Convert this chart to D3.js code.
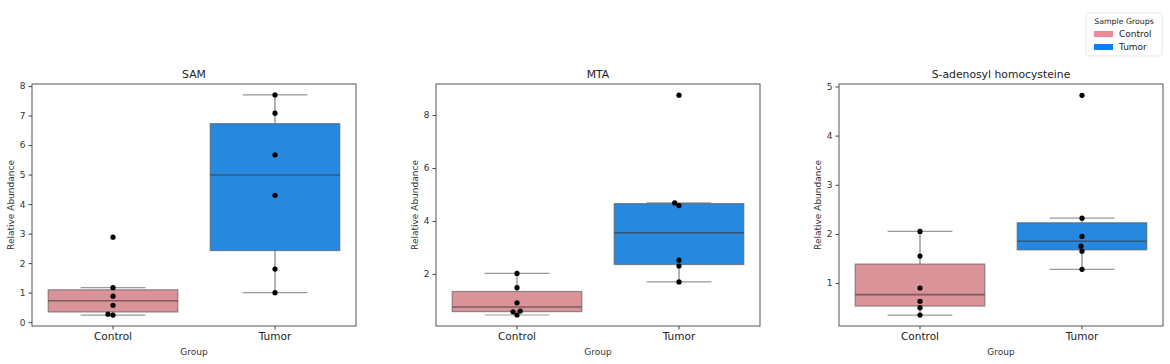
<!DOCTYPE html>
<html>
<head>
<meta charset="utf-8">
<script src="https://cdn.jsdelivr.net/npm/d3@7"></script>
<style>
  body { margin: 0; background: #fff; }
  svg { display: block; font-family: "DejaVu Sans", sans-serif; }
</style>
</head>
<body>
<div id="chart"></div>
<script>
// data
const groups = ["Control", "Tumor"];
const titles = ["SAM", "MTA", "S-adenosyl homocysteine"];

const samControl = [2.88, 1.17, 0.88, 0.57, 0.27, 0.24];
const samTumor = [7.70, 7.08, 5.67, 4.30, 1.80, 1.00];
const mtaControl = [2.02, 1.48, 0.91, 0.60, 0.57, 0.45];
const mtaTumor = [8.75, 4.68, 4.58, 2.52, 2.30, 1.70];
const sahControl = [2.05, 1.55, 0.90, 0.63, 0.50, 0.35];
const sahTumor = [4.82, 2.32, 1.95, 1.75, 1.65, 1.28];

const samTicks = [0, 1, 2, 3, 4, 5, 6, 7, 8];
const mtaTicks = [2, 4, 6, 8];
const sahTicks = [1, 2, 3, 4, 5];

const panels = [
  { title: titles[0], values: [samControl, samTumor], ticks: samTicks, domain: [-0.13, 8.07] },
  { title: titles[1], values: [mtaControl, mtaTumor], ticks: mtaTicks, domain: [0.035, 9.17] },
  { title: titles[2], values: [sahControl, sahTumor], ticks: sahTicks, domain: [0.127, 5.05] }
];

const boxFill = { Control: "#da9399", Tumor: "#2688df" };
const legendFill = { Control: "#ee8a94", Tumor: "#0a80ff" };

const width = 1170, height = 364;
const panelLeft = [32, 436, 839];
const panelW = 324;
const plotTop = 84, plotBottom = 326;

const svg = d3.select("#chart").append("svg")
  .attr("width", width)
  .attr("height", height);

// place points like a swarm plot so overlapping dots are pushed sideways
function swarm(vals, y, cx, diam) {
  const sorted = vals.slice().sort((a, b) => a - b);
  const placed = [];
  sorted.forEach(v => {
    const py = y(v);
    let off = 0;
    for (let k = 0; k < 200; k++) {
      const cand = k === 0 ? [0] : [-k * 0.25, k * 0.25];
      const ok = cand.find(c => placed.every(p => Math.hypot(p.x - (cx + c), p.y - py) >= diam - 0.01));
      if (ok !== undefined) { off = ok; break; }
    }
    placed.push({ x: cx + off, y: py });
  });
  return placed;
}

panels.forEach((p, i) => {
  const g = svg.append("g").attr("transform", `translate(${panelLeft[i]},0)`);

  const x = d3.scaleBand().domain(groups).range([0, panelW]).padding(0);
  const y = d3.scaleLinear().domain(p.domain).range([plotBottom, plotTop]);
  const bw = x.bandwidth() * 0.8;

  groups.forEach((grp, j) => {
    const vals = p.values[j].slice().sort(d3.ascending);
    const q1 = d3.quantile(vals, 0.25);
    const med = d3.quantile(vals, 0.5);
    const q3 = d3.quantile(vals, 0.75);
    const iqr = q3 - q1;
    const lo = d3.min(vals.filter(v => v >= q1 - 1.5 * iqr));
    const hi = d3.max(vals.filter(v => v <= q3 + 1.5 * iqr));
    const cx = x(grp) + x.bandwidth() / 2;

    // whiskers
    g.append("line")
      .attr("x1", cx).attr("x2", cx)
      .attr("y1", y(hi)).attr("y2", y(q3))
      .attr("stroke", "#9a9a9a").attr("stroke-width", 1.5);
    g.append("line")
      .attr("x1", cx).attr("x2", cx)
      .attr("y1", y(q1)).attr("y2", y(lo))
      .attr("stroke", "#9a9a9a").attr("stroke-width", 1.5);
    [lo, hi].forEach(v => {
      g.append("line")
        .attr("x1", cx - bw / 4).attr("x2", cx + bw / 4)
        .attr("y1", y(v)).attr("y2", y(v))
        .attr("stroke", "#999").attr("stroke-width", 1.2);
    });

    g.append("rect")
      .attr("x", cx - bw / 2)
      .attr("y", y(q3))
      .attr("width", bw)
      .attr("height", y(q1) - y(q3))
      .attr("fill", boxFill[grp])
      .attr("stroke", "#555").attr("stroke-opacity", 0.6)
      .attr("stroke-width", 1.2);

    g.append("line")
      .attr("x1", cx - bw / 2).attr("x2", cx + bw / 2)
      .attr("y1", y(med)).attr("y2", y(med))
      .attr("stroke", "#3a3a3a").attr("stroke-opacity", 0.6)
      .attr("stroke-width", 1.6);

    // points
    g.selectAll(null)
      .data(swarm(p.values[j], y, cx, 5))
      .enter()
      .append("circle")
      .attr("cx", d => d.x)
      .attr("cy", d => d.y)
      .attr("r", 2.6)
      .attr("fill", "#000");
  });

  // frame
  g.append("rect")
    .attr("x", 0).attr("y", plotTop)
    .attr("width", panelW).attr("height", plotBottom - plotTop)
    .attr("fill", "none")
    .attr("stroke", "#555").attr("stroke-width", 1);

  // y axis
  const ya = g.append("g")
    .call(d3.axisLeft(y).tickValues(p.ticks).tickSize(3.5).tickPadding(3).tickFormat(d3.format("d")));
  ya.select(".domain").remove();
  ya.selectAll("line").attr("stroke", "#444");
  ya.selectAll("text").attr("font-size", 9).attr("fill", "#333").attr("font-family", "DejaVu Sans");

  // x axis
  const xa = g.append("g")
    .attr("transform", `translate(0,${plotBottom})`)
    .call(d3.axisBottom(x).tickSize(3.5).tickPadding(3));
  xa.select(".domain").remove();
  xa.selectAll("line").attr("stroke", "#444");
  xa.selectAll("text").attr("font-size", 10.5).attr("fill", "#222").attr("font-family", "DejaVu Sans");

  g.append("text")
    .attr("x", panelW / 2).attr("y", 78)
    .attr("text-anchor", "middle")
    .attr("font-size", 10.8).attr("fill", "#222")
    .text(p.title);

  g.append("text")
    .attr("x", panelW / 2).attr("y", 355)
    .attr("text-anchor", "middle")
    .attr("font-size", 9).attr("fill", "#333")
    .text("Group");

  g.append("text")
    .attr("transform", `translate(-18,${(plotTop + plotBottom) / 2}) rotate(-90)`)
    .attr("text-anchor", "middle")
    .attr("font-size", 9).attr("fill", "#333")
    .text("Relative Abundance");
});

// legend
const lg = svg.append("g").attr("transform", "translate(1086,13)");
lg.append("rect")
  .attr("width", 76).attr("height", 43).attr("rx", 2)
  .attr("fill", "#fff").attr("stroke", "#ddd").attr("stroke-width", 0.8);
lg.append("text")
  .attr("x", 38).attr("y", 11)
  .attr("text-anchor", "middle")
  .attr("font-size", 7.8).attr("fill", "#222")
  .text("Sample Groups");
groups.forEach((grp, k) => {
  const yy = 21 + k * 13;
  lg.append("rect")
    .attr("x", 8).attr("y", yy - 3)
    .attr("width", 19).attr("height", 6)
    .attr("fill", legendFill[grp]);
  lg.append("text")
    .attr("x", 33).attr("y", yy + 3.2)
    .attr("font-size", 9).attr("fill", "#222")
    .text(grp);
});
</script>
</body>
</html>
